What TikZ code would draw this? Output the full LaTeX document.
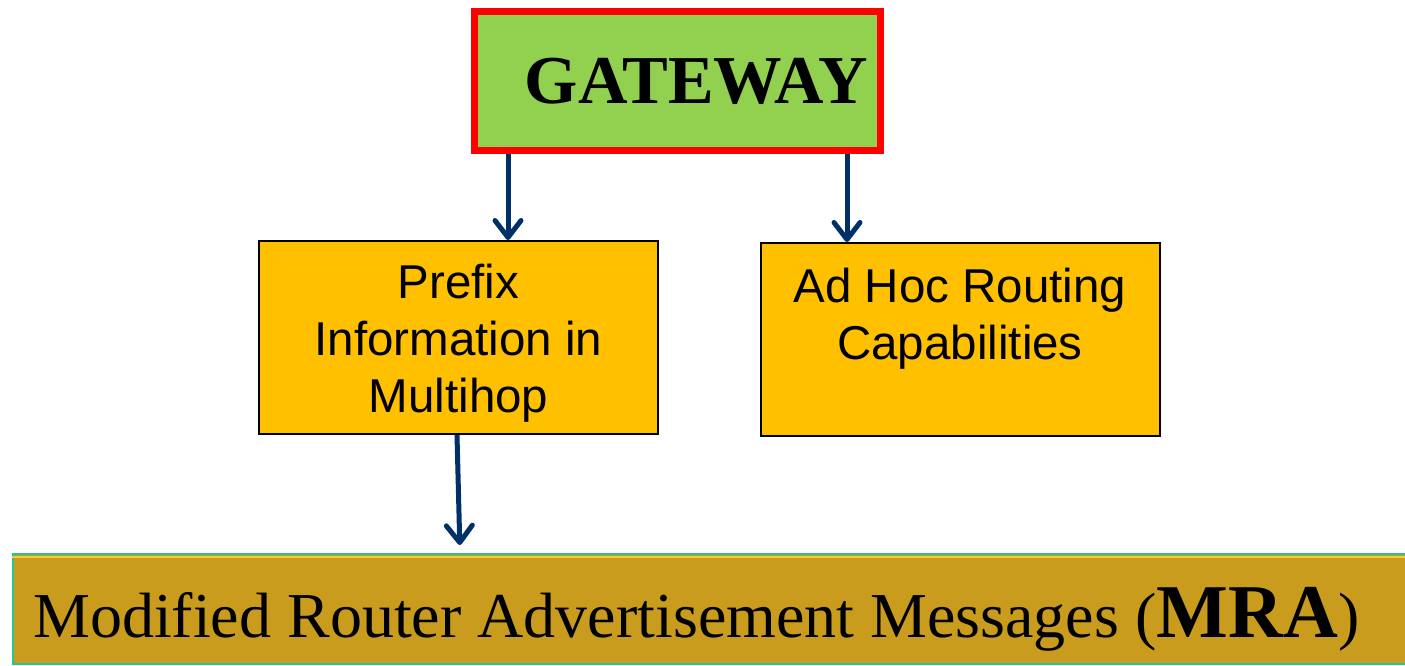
\documentclass[tikz,border=0pt]{standalone}
\usepackage{fontspec}
\setmainfont{Liberation Serif}
\newfontfamily\arialfont{Liberation Sans}
\usetikzlibrary{positioning,arrows.meta}
\definecolor{gwgreen}{RGB}{146,208,80}
\definecolor{gwred}{RGB}{255,0,0}
\definecolor{boxorange}{RGB}{255,192,0}
\definecolor{arrblue}{RGB}{0,48,104}
\definecolor{bargold}{RGB}{201,156,30}
\definecolor{barteal}{RGB}{32,200,150}
\definecolor{barline}{RGB}{255,200,60}
\begin{document}
\begin{tikzpicture}[x=1pt, y=-1pt,
  main/.style = {draw, fill=boxorange, line width=2pt, minimum width=399pt, minimum height=193pt, inner sep=0pt},
  txt/.style = {font=\arialfont\fontsize{47.5}{57}\selectfont, align=center, inner sep=0pt},
  mra/.style = {anchor=base west, inner sep=0pt, font=\fontsize{64}{70}\selectfont},
  arr/.style = {draw=arrblue, line width=5pt, -{Straight Barb[length=17pt, width=26pt, line cap=round, line join=round]}}]
  \useasboundingbox (0,0) rectangle (1405,666);
  \clip (0,0) rectangle (1405,666);
  \node[draw=gwred, fill=gwgreen, line width=7pt, minimum width=406pt, minimum height=139pt, text width=380pt, align=right, font=\bfseries\fontsize{68.5}{74}\selectfont] (1) at (677.5,81) {GATEWAY};
  \node[main] (2) at (458.5,337.5) {};
  \node[main] (3) at (960,339.5) {};
  \node[txt, below=24pt of 2.north] (2t) {Prefix\\Information in\\Multihop};
  \node[txt, below=26pt of 3.north] (3t) {Ad Hoc Routing\\Capabilities};
  \node[draw=barteal, fill=bargold, line width=2pt, minimum width=1407pt, minimum height=110pt, inner sep=0pt] (4) at (716.5,609) {};
  \draw[barline, line width=2pt] ([yshift=-4pt]4.north west) -- ([yshift=-4pt]4.north east);
  \node[mra] (5) at (33,637) {Modified Router Advertisement Messages ({\bfseries\fontsize{76}{80}\selectfont MRA})};
  \draw[arr] ([xshift=37pt]1.south west) -- ([xshift=37pt]1.south west |- 2.north);
  \draw[arr] ([xshift=-37pt]1.south east) -- ([xshift=-37pt]1.south east |- 3.north);
  \draw[arr, shorten >=8pt] ([xshift=-1.5pt]2.south) -- ([xshift=1.5pt]2.south |- 4.north);
\end{tikzpicture}
\end{document}
